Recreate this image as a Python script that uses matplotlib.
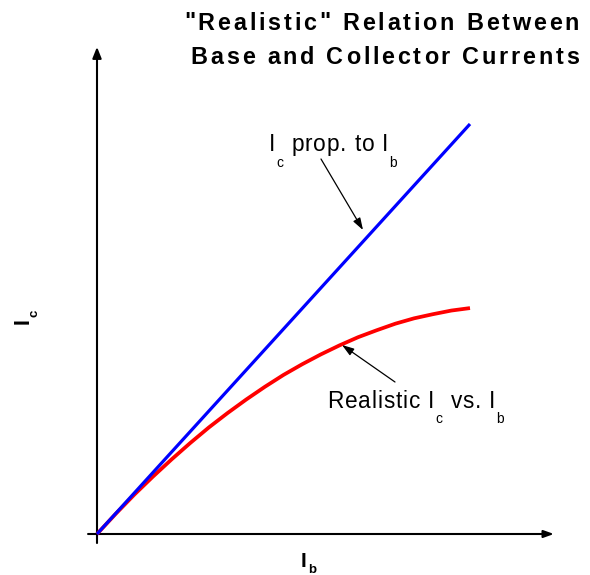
import matplotlib
matplotlib.use("Agg")
import matplotlib.pyplot as plt
from matplotlib.font_manager import FontProperties, findfont
from matplotlib.ft2font import FT2Font

# ---------------- data ----------------
ib = [0, 0.5, 1, 1.5, 2, 2.5, 3, 3.5, 4, 4.5, 5, 5.5, 6, 6.5, 7, 7.5, 8, 8.5, 9, 9.5, 10]
ic_real = [0, 4.9, 9.6, 14.0, 18.2, 22.2, 26.0, 29.5, 32.8, 35.9, 38.8, 41.4, 43.8,
           46.0, 48.0, 49.7, 51.3, 52.6, 53.6, 54.5, 55.1]
ib_prop = [0, 10]
ic_prop = [0, 100]

title_lines = ['"Realistic" Relation Between', 'Base and Collector Currents']
label_prop = [("I", 0), ("c", 1), (" prop. to I", 0), ("b", 1)]
label_real = [("Realistic I", 0), ("c", 1), (" vs. I", 0), ("b", 1)]

W, H = 590, 575
fig = plt.figure(figsize=(W / 100, H / 100), dpi=100)
ax = fig.add_axes([0, 0, 1, 1])
ax.set_xlim(-97 / 37.3, (W - 97) / 37.3)
ax.set_ylim(-(H - 534) / 4.1, 534 / 4.1)
ax.axis("off")

# axes with arrows
ax.annotate("", xy=(12.25, 0), xytext=(-0.24, 0),
            arrowprops=dict(arrowstyle="-|>,head_length=0.5,head_width=0.18",
                            mutation_scale=12, color="black", lw=1.5,
                            shrinkA=0, shrinkB=0))
ax.annotate("", xy=(0, 118.8), xytext=(0, -2.2),
            arrowprops=dict(arrowstyle="-|>,head_length=0.55,head_width=0.22",
                            mutation_scale=12, color="black", lw=1.5,
                            shrinkA=0, shrinkB=0))

ax.plot(ib, ic_real, color="#ff0000", lw=2.7, solid_capstyle="butt", zorder=3)
ax.plot(ib_prop, ic_prop, color="#0000ff", lw=2.3, solid_capstyle="butt", zorder=4)

# ---------------- text helpers ----------------
_fonts = {}


def _font(weight):
    if weight not in _fonts:
        prop = FontProperties(family="Liberation Sans", weight=weight)
        _fonts[weight] = FT2Font(findfont(prop))
    return _fonts[weight]


def advance(ch, size, weight):
    f = _font(weight)
    f.set_size(size, 100)
    g = f.load_char(ord(ch))
    return g.linearHoriAdvance / 65536.0


def run_width(s, size, weight, spacing):
    return sum(advance(c, size, weight) + spacing for c in s) - spacing


def draw_chars(x, y, s, size, weight, spacing, color="black"):
    for c in s:
        if c != " ":
            ax.annotate(c, xy=(x, H - y), xycoords="figure pixels", ha="left",
                        va="baseline", fontsize=size, fontweight=weight,
                        family="Liberation Sans", color=color)
        x += advance(c, size, weight) + spacing
    return x


def draw_runs(x, y, runs, size, subsize, subdrop, weight, spacing):
    for s, sub in runs:
        if sub:
            x = draw_chars(x, y + subdrop, s, subsize, weight, spacing)
        else:
            x = draw_chars(x, y, s, size, weight, spacing)


# title (right aligned, letter-spaced)
tsize, tsp = 16.8, 2.8
for line, base in zip(title_lines, [29.5, 63.5]):
    w = run_width(line, tsize, "bold", tsp)
    draw_chars(579 - w, base, line, tsize, "bold", tsp)

# annotations
draw_runs(269, 151, label_prop, 16.3, 10, 16, "normal", 0.9)
draw_runs(327.5, 408, label_real, 16.3, 10, 15, "normal", 0.9)

ax.annotate("", xy=(363, H - 230), xycoords="figure pixels",
            xytext=(321, H - 159), textcoords="figure pixels",
            arrowprops=dict(arrowstyle="-|>,head_length=0.6,head_width=0.2",
                            mutation_scale=12, color="black", lw=0.9,
                            shrinkA=0, shrinkB=0))
ax.annotate("", xy=(342, H - 345), xycoords="figure pixels",
            xytext=(395, H - 382), textcoords="figure pixels",
            arrowprops=dict(arrowstyle="-|>,head_length=0.6,head_width=0.2",
                            mutation_scale=12, color="black", lw=0.9,
                            shrinkA=0, shrinkB=0))

# x label I_b
draw_runs(301, 567, [("I", 0), ("b", 1)], 15, 9.5, 6, "bold", 1.5)

# y label I_c (rotated)
ax.annotate("I", xy=(29, H - 324.5), xycoords="figure pixels", rotation=90,
            rotation_mode="anchor", ha="left", va="baseline", fontsize=15.5,
            fontweight="bold", family="Liberation Sans")
ax.annotate("c", xy=(38, H - 317), xycoords="figure pixels", rotation=90,
            rotation_mode="anchor", ha="left", va="baseline", fontsize=9.5,
            fontweight="bold", family="Liberation Sans")

fig.savefig("out.png", dpi=100)
